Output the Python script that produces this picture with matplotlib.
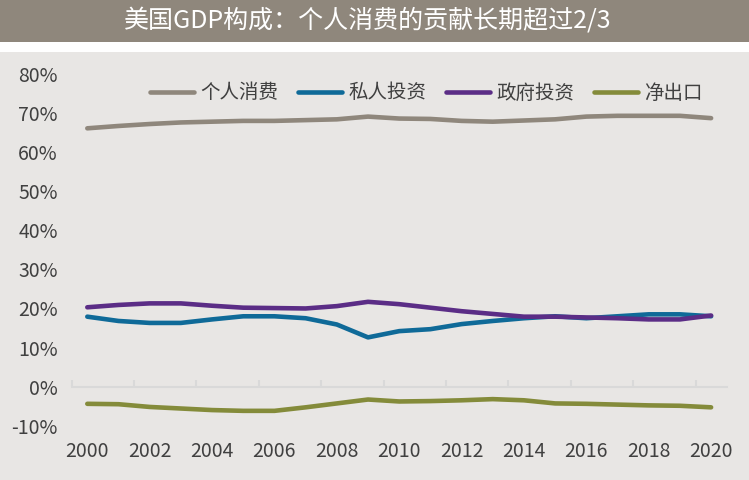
import matplotlib
matplotlib.use("Agg")
import matplotlib.pyplot as plt
from matplotlib.patches import Rectangle
from matplotlib.ticker import FuncFormatter
import numpy as np

plt.rcParams['font.family'] = ['Noto Sans CJK SC', 'DejaVu Sans']

# data (% of GDP)
years = list(range(2000, 2021))
consumption = [66.1, 66.7, 67.2, 67.6, 67.8, 68.0, 68.0, 68.2, 68.4, 69.1, 68.6,
               68.5, 68.0, 67.8, 68.1, 68.4, 69.1, 69.3, 69.3, 69.3, 68.7]
private_inv = [17.9, 16.8, 16.3, 16.3, 17.2, 18.0, 18.0, 17.5, 15.9, 12.6, 14.2,
               14.7, 16.0, 16.8, 17.5, 18.0, 17.5, 18.0, 18.5, 18.5, 18.0]
government = [20.3, 20.9, 21.3, 21.3, 20.7, 20.2, 20.1, 20.0, 20.6, 21.7, 21.1,
              20.2, 19.3, 18.6, 17.9, 17.9, 17.7, 17.5, 17.2, 17.2, 18.2]
net_exports = [-4.4, -4.5, -5.2, -5.6, -6.0, -6.2, -6.2, -5.3, -4.3, -3.3, -3.8,
               -3.7, -3.5, -3.2, -3.5, -4.3, -4.4, -4.6, -4.8, -4.9, -5.3]
series_names = ['个人消费', '私人投资', '政府投资', '净出口']
series_colors = ['#8f877c', '#0f6a98', '#5b2d86', '#848b3a']
y_ticks = list(range(-10, 81, 10))
title = '美国GDP构成：个人消费的贡献长期超过2/3'

W, H = 749, 480
text_col = '#404040'

fig = plt.figure(figsize=(W / 100, H / 100), dpi=100)
fig.patch.set_facecolor('#e8e6e4')

# title bar + white strip
fig.patches.append(Rectangle((0, 1 - 42 / H), 1, 42 / H, transform=fig.transFigure,
                             facecolor='#8f877c', edgecolor='none', zorder=0))
fig.patches.append(Rectangle((0, 1 - 52 / H), 1, 10 / H, transform=fig.transFigure,
                             facecolor='white', edgecolor='none', zorder=0))
fig.text(0.491, 1 - 20 / H, title, color='white', fontsize=18, ha='center', va='center')

ax = fig.add_axes([71.7 / W, 1 - 425.7 / H, 655 / W, 351.7 / H])
ax.set_facecolor('none')

x = np.arange(len(years))
for vals, name, col in zip([consumption, private_inv, government, net_exports],
                           series_names, series_colors):
    ax.plot(x, vals, color=col, lw=3.3, label=name,
            solid_capstyle='round', solid_joinstyle='round')

ax.set_xlim(-0.5, len(years) - 0.5)
ax.set_ylim(y_ticks[0], y_ticks[-1])
ax.set_yticks(y_ticks)
ax.yaxis.set_major_formatter(FuncFormatter(lambda v, p: f'{v:.0f}%'))
ax.tick_params(axis='y', length=0, pad=10, labelsize=14, labelcolor=text_col)

for s in ['left', 'right', 'top']:
    ax.spines[s].set_visible(False)
ax.spines['bottom'].set_position(('data', 0))
ax.spines['bottom'].set_color('#d9d9d9')
ax.spines['bottom'].set_linewidth(1.5)

# boundary ticks on the zero line, every second category
ax.set_xticks(np.arange(-0.5, len(years) - 1, 2))
ax.tick_params(axis='x', direction='in', length=5, width=1.5, color='#d9d9d9',
               labelbottom=False)

sec = ax.secondary_xaxis('bottom')
sec.set_xticks(x[::2], labels=[str(y) for y in years[::2]])
sec.tick_params(length=0, pad=11, labelsize=14, labelcolor=text_col)
sec.spines['bottom'].set_visible(False)

ax.legend(loc='center', bbox_to_anchor=(0.541, 0.946), ncol=4, frameon=False,
          fontsize=14, handlelength=2.3, handletextpad=0.3, columnspacing=1.0,
          labelcolor=text_col, borderaxespad=0, borderpad=0)

fig.savefig('out.png', dpi=100, facecolor=fig.get_facecolor())
